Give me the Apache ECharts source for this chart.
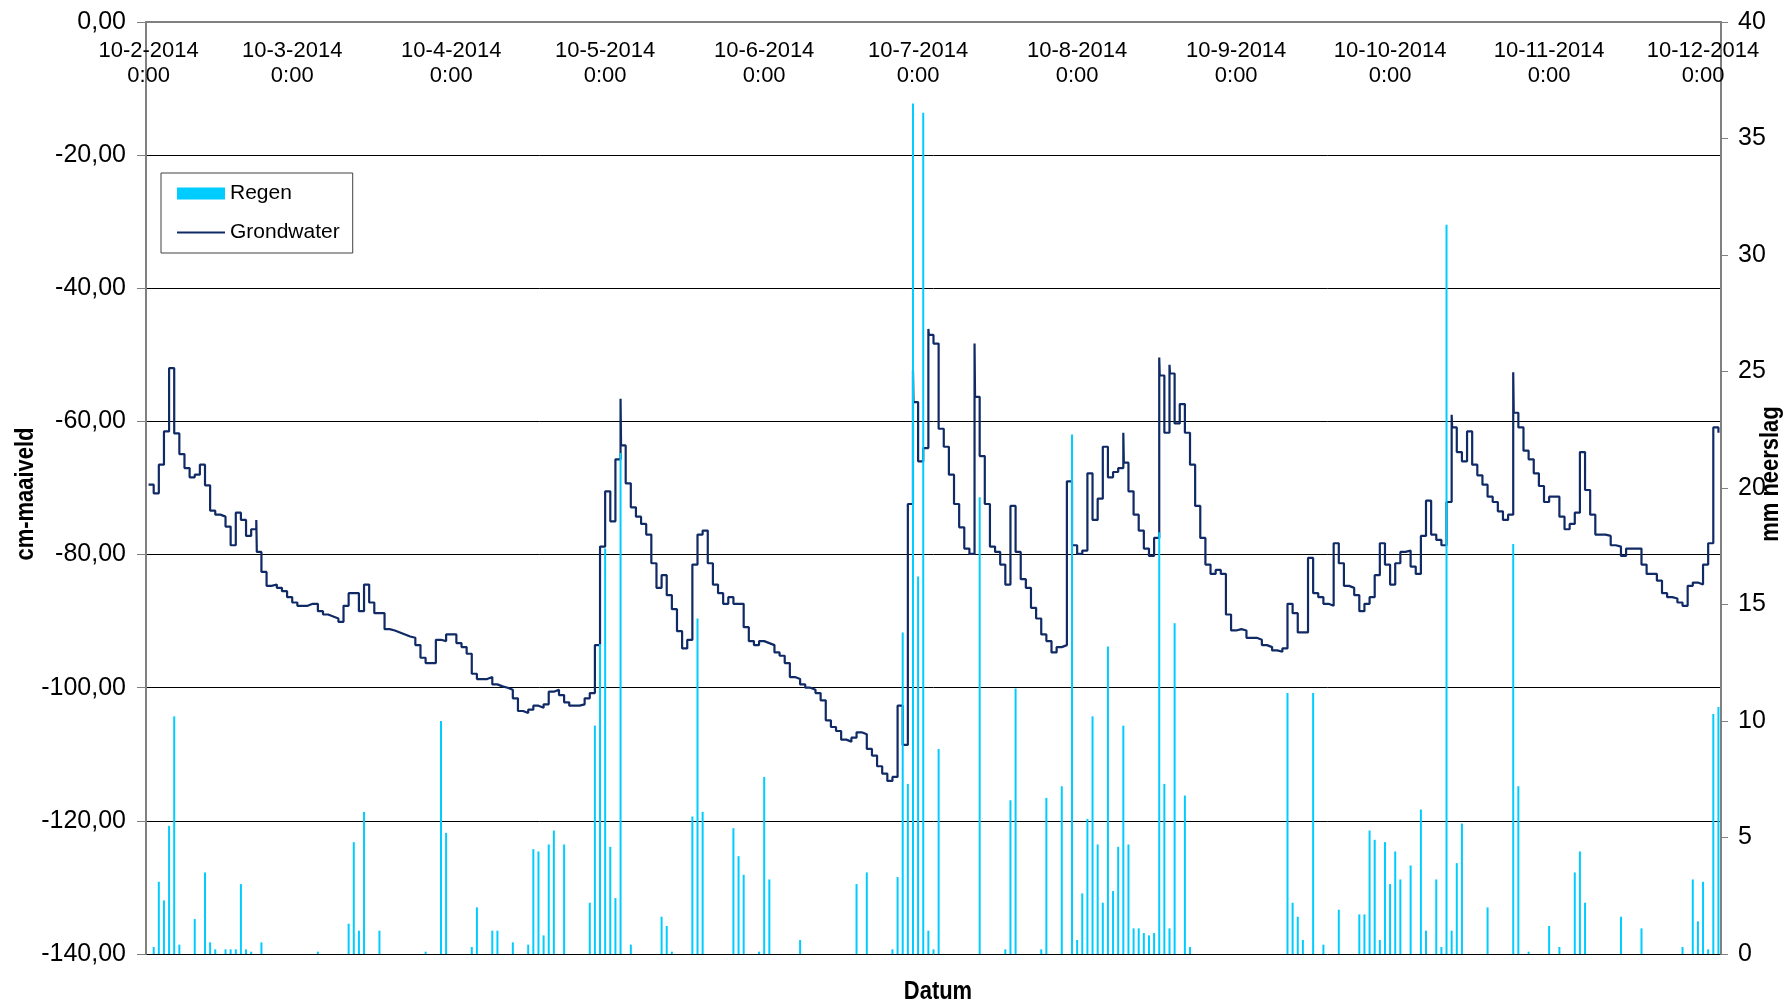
<!DOCTYPE html>
<html><head><meta charset="utf-8">
<script src="https://cdn.jsdelivr.net/npm/echarts@6/dist/echarts.min.js"></script>
<style>html,body{margin:0;padding:0;background:#fff}#c{width:1789px;height:1003px}</style>
</head><body><div id="c"></div><script>
// Period: 10-2-2014 .. 13-12-2014 (one category per day)
const startYear = 2014, startMonth = 1, startDay = 10;
const dayCount = 307;
const labelDayOfMonth = 10;

// Grondwater (cm-maaiveld), one value per day
const groundwater = [
-69.5,-70.8,-66.5,-61.5,-52,-61.8,-64.9,-67,-68.4,-68,
-66.5,-69.6,-73.4,-74,-74.3,-75.8,-78.6,-73.7,-74.8,-77.2,
-76.2,-79.6,-82.6,-84.7,-84.5,-85,-85.5,-86.4,-87.2,-87.7,
-87.7,-87.4,-87.4,-88.5,-89,-89.3,-89.6,-90.1,-87.7,-85.8,
-85.8,-88.5,-84.5,-87.2,-88.8,-88.8,-91.2,-91.4,-91.7,-92,
-92.3,-92.5,-93.6,-95.5,-96.3,-96.3,-92.8,-93,-92,-92,
-93.3,-93.9,-94.9,-97.9,-98.7,-98.7,-98.4,-99.5,-99.8,-100,
-100.3,-101.6,-103.5,-103.8,-103.3,-102.7,-103,-102.5,-100.6,-100.3,
-101.1,-102.2,-102.7,-102.7,-102.5,-101.6,-100.8,-93.6,-78.8,-70.5,
-75,-65.7,-63.6,-69.3,-72.9,-74.3,-75.4,-77,-81.3,-85,
-83.1,-86.1,-88.2,-91.5,-94.1,-92.8,-81.5,-77,-76.4,-81.3,
-84.5,-85.8,-87.4,-86.4,-87.4,-87.4,-90.9,-93,-93.6,-93,
-93.3,-93.6,-94.7,-95.2,-96.3,-98.4,-98.7,-99.5,-100,-100.3,
-100.8,-101.9,-104.9,-105.9,-106.5,-107.8,-108.1,-107.5,-106.7,-107,
-109.2,-110.2,-111.8,-112.9,-114,-113.4,-102.7,-108.6,-72.4,-57.1,
-66,-64,-47,-48.3,-61.1,-63.8,-68,-72.4,-75.9,-79.1,
-79.9,-56.3,-65.2,-72.4,-78.8,-79.6,-81.5,-84.5,-72.7,-79.6,
-83.7,-85,-88,-89.6,-92,-93,-94.7,-93.9,-93.6,-69,
-78.6,-79.9,-79.4,-67.8,-74.8,-71.6,-63.8,-68.4,-67.6,-67,
-66.2,-70.5,-74,-76.4,-79.1,-80.2,-77.5,-53.1,-61.7,-52.8,
-60.3,-57.4,-61.7,-66.5,-72.7,-77.5,-81.5,-82.9,-82.3,-82.9,
-89,-91.4,-91.2,-91.4,-92.5,-92.5,-92.8,-93.6,-93.9,-94.4,
-94.6,-94.1,-87.4,-88.8,-91.7,-91.7,-80.5,-85.8,-86.4,-87.4,
-87.7,-78.3,-81.3,-84.7,-85,-86.1,-88.5,-87.4,-86.4,-83.1,
-78.3,-81.5,-84.5,-81.3,-79.6,-79.4,-81.8,-82.9,-77.2,-71.9,
-77,-77.8,-78.6,-72.1,-60.9,-64.6,-66,-61.5,-66.5,-68.1,
-69.5,-71.3,-72.1,-73.5,-74.8,-74,-58.7,-60.9,-64.4,-65.7,
-67.8,-69.7,-72.1,-71.3,-71.3,-74.3,-76.2,-75.4,-73.7,-64.6,
-70.3,-74,-77,-77,-77.2,-78.6,-78.8,-80.2,-79.1,-79.1,
-79.1,-81.5,-82.9,-82.9,-83.9,-85.8,-86.4,-86.6,-87.2,-87.7,
-84.7,-84.2,-84.5,-81.5,-78.3,-60.9,-61.7
];
// Short-lived peak readings within a day (day number, cm-maaiveld)
const spikeDay = [21, 92, 149, 152, 161, 190, 197, 199, 254, 266];
const spikeValue = [-74.8, -56.6, -52.3, -46.1, -48.3, -61.7, -50.4, -51.5, -59, -52.6];

// Regen (mm neerslag): day number (0 = 10-2-2014) and amount
const rainDay = [1,2,3,4,5,6,9,11,12,13,15,16,17,18,19,20,22,33,39,40,41,42,45,
54,57,58,63,64,67,68,71,74,75,76,77,78,79,81,86,87,88,89,90,91,92,94,
100,101,102,106,107,108,114,115,116,119,120,121,127,138,140,145,146,147,148,149,150,151,152,153,154,
162,167,168,169,174,175,178,180,181,182,183,184,185,186,187,188,189,190,191,192,193,194,195,196,197,198,199,200,202,203,
222,223,224,225,227,229,232,236,237,238,239,240,241,242,243,244,246,248,249,251,252,253,254,255,256,
261,266,267,269,273,275,278,279,280,287,291,299,301,302,303,304,305,306];
const rainMm = [0.3,3.1,2.3,5.5,10.2,0.4,1.5,3.5,0.5,0.2,0.2,0.2,0.2,3.0,0.2,0.1,0.5,0.1,1.3,4.8,1.0,6.1,1.0,
0.1,10.0,5.2,0.3,2.0,1.0,1.0,0.5,0.4,4.5,4.4,0.8,4.7,5.3,4.7,2.2,9.8,13.3,17.4,4.6,2.4,21.5,0.4,
1.6,1.2,0.1,5.9,14.4,6.1,5.4,4.2,3.4,0.1,7.6,3.2,0.6,3.0,3.5,0.2,3.3,13.8,7.3,36.5,16.2,36.1,1.0,0.2,8.8,
19.6,0.2,6.6,11.4,0.2,6.7,7.2,22.3,0.6,2.6,5.8,10.2,4.7,2.2,13.2,2.7,4.6,9.8,4.7,1.1,1.1,0.9,0.8,0.9,18.1,7.3,1.1,14.2,6.8,0.3,
11.2,2.2,1.6,0.6,11.2,0.4,1.9,1.7,1.7,5.3,4.9,0.6,4.8,3.0,4.4,3.2,3.8,6.2,1.0,3.2,0.3,31.3,1.0,3.9,5.6,
2.0,17.6,7.2,0.1,1.2,0.3,3.5,4.4,2.2,1.6,1.1,0.3,3.2,1.4,3.1,0.2,10.3,10.6];

const categories = [];
for (let i = 0; i < dayCount; i++) {
  const d = new Date(startYear, startMonth, startDay + i);
  categories.push(d.getDate() + '-' + (d.getMonth() + 1) + '-' + d.getFullYear());
}
const rain = new Array(dayCount).fill(null);
rainDay.forEach((d, i) => { rain[d] = rainMm[i]; });

// line points in day units (reading taken mid-day), spikes inserted as brief readings
const linePoints = [];
groundwater.forEach((v, k) => {
  const si = spikeDay.indexOf(k);
  if (si >= 0) { linePoints.push([k + 0.5, spikeValue[si]]); linePoints.push([k + 0.6, v]); }
  else { linePoints.push([k + 0.5, v]); }
});

const isLabelDay = (idx, val) => String(val).split('-')[0] === String(labelDayOfMonth);
const fontMain = 'Liberation Sans, Arial, sans-serif';
const titleFont = 'bold 26.6px Liberation Sans, Arial, sans-serif';
const narrow = 0.825;

const chart = echarts.init(document.getElementById('c'), null, {renderer: 'canvas', width: 1789, height: 1003});
chart.setOption({
  animation: false,
  backgroundColor: '#ffffff',
  grid: {left: 146, right: 68, top: 22, bottom: 49, containLabel: false, outerBoundsMode: 'none'},
  legend: {
    orient: 'vertical', left: 161, top: 173,
    padding: [10, 13, 10, 16],
    itemWidth: 48, itemHeight: 12, itemGap: 18,
    borderColor: '#404040', borderWidth: 1, backgroundColor: '#ffffff',
    textStyle: {fontFamily: fontMain, fontSize: 21, color: '#000'},
    data: [
      {name: 'Regen', icon: 'rect'},
      {name: 'Grondwater', icon: 'path://M0,0L48,0L48,2L0,2Z'}
    ]
  },
  xAxis: [
    {
      type: 'category', data: categories, position: 'top', boundaryGap: true,
      axisLine: {lineStyle: {color: '#808080', width: 2}},
      axisTick: {inside: true, length: 8, interval: isLabelDay, lineStyle: {color: '#808080', width: 1}},
      axisLabel: {inside: true, interval: isLabelDay, margin: 16, fontFamily: fontMain, fontSize: 22, lineHeight: 25, color: '#000',
        formatter: v => v + '\n0:00'},
      splitLine: {show: false}
    },
    {type: 'value', min: 0, max: dayCount, show: false}
  ],
  yAxis: [
    {
      type: 'value', min: -140, max: 0, interval: 20, position: 'left',
      axisLine: {show: true, lineStyle: {color: '#808080', width: 2}},
      axisTick: {show: true, inside: false, length: 9, lineStyle: {color: '#808080'}},
      axisLabel: {margin: 20, fontFamily: fontMain, fontSize: 25, color: '#000',
        formatter: v => v.toFixed(2).replace('.', ',')},
      splitLine: {show: true, lineStyle: {color: '#000', width: 1}}
    },
    {
      type: 'value', min: 0, max: 40, interval: 5, position: 'right',
      axisLine: {show: true, lineStyle: {color: '#808080', width: 2}},
      axisTick: {show: true, inside: false, length: 7, lineStyle: {color: '#808080'}},
      axisLabel: {margin: 17, fontFamily: fontMain, fontSize: 25, color: '#000'},
      splitLine: {show: false}
    }
  ],
  graphic: [
    {type: 'text', x: 26, y: 494, rotation: Math.PI / 2, scaleX: narrow, z: 10,
     style: {text: 'cm-maaiveld', font: titleFont, fill: '#000', textAlign: 'center', textVerticalAlign: 'middle'}},
    {type: 'text', x: 1771, y: 474, rotation: Math.PI / 2, scaleX: narrow, z: 10,
     style: {text: 'mm neerslag', font: titleFont, fill: '#000', textAlign: 'center', textVerticalAlign: 'middle'}},
    {type: 'text', x: 938, y: 992, scaleX: narrow, z: 10,
     style: {text: 'Datum', font: titleFont, fill: '#000', textAlign: 'center', textVerticalAlign: 'middle'}}
  ],
  series: [
    {name: 'Grondwater', type: 'line', data: linePoints, xAxisIndex: 1, yAxisIndex: 0, step: 'end',
     symbol: 'none', lineStyle: {color: '#102a66', width: 2.2}, itemStyle: {color: '#102a66'}, z: 2},
    {name: 'Regen', type: 'bar', data: rain, xAxisIndex: 0, yAxisIndex: 1, barWidth: 2,
     itemStyle: {color: '#00ccff'}, z: 3}
  ]
});
</script></body></html>
